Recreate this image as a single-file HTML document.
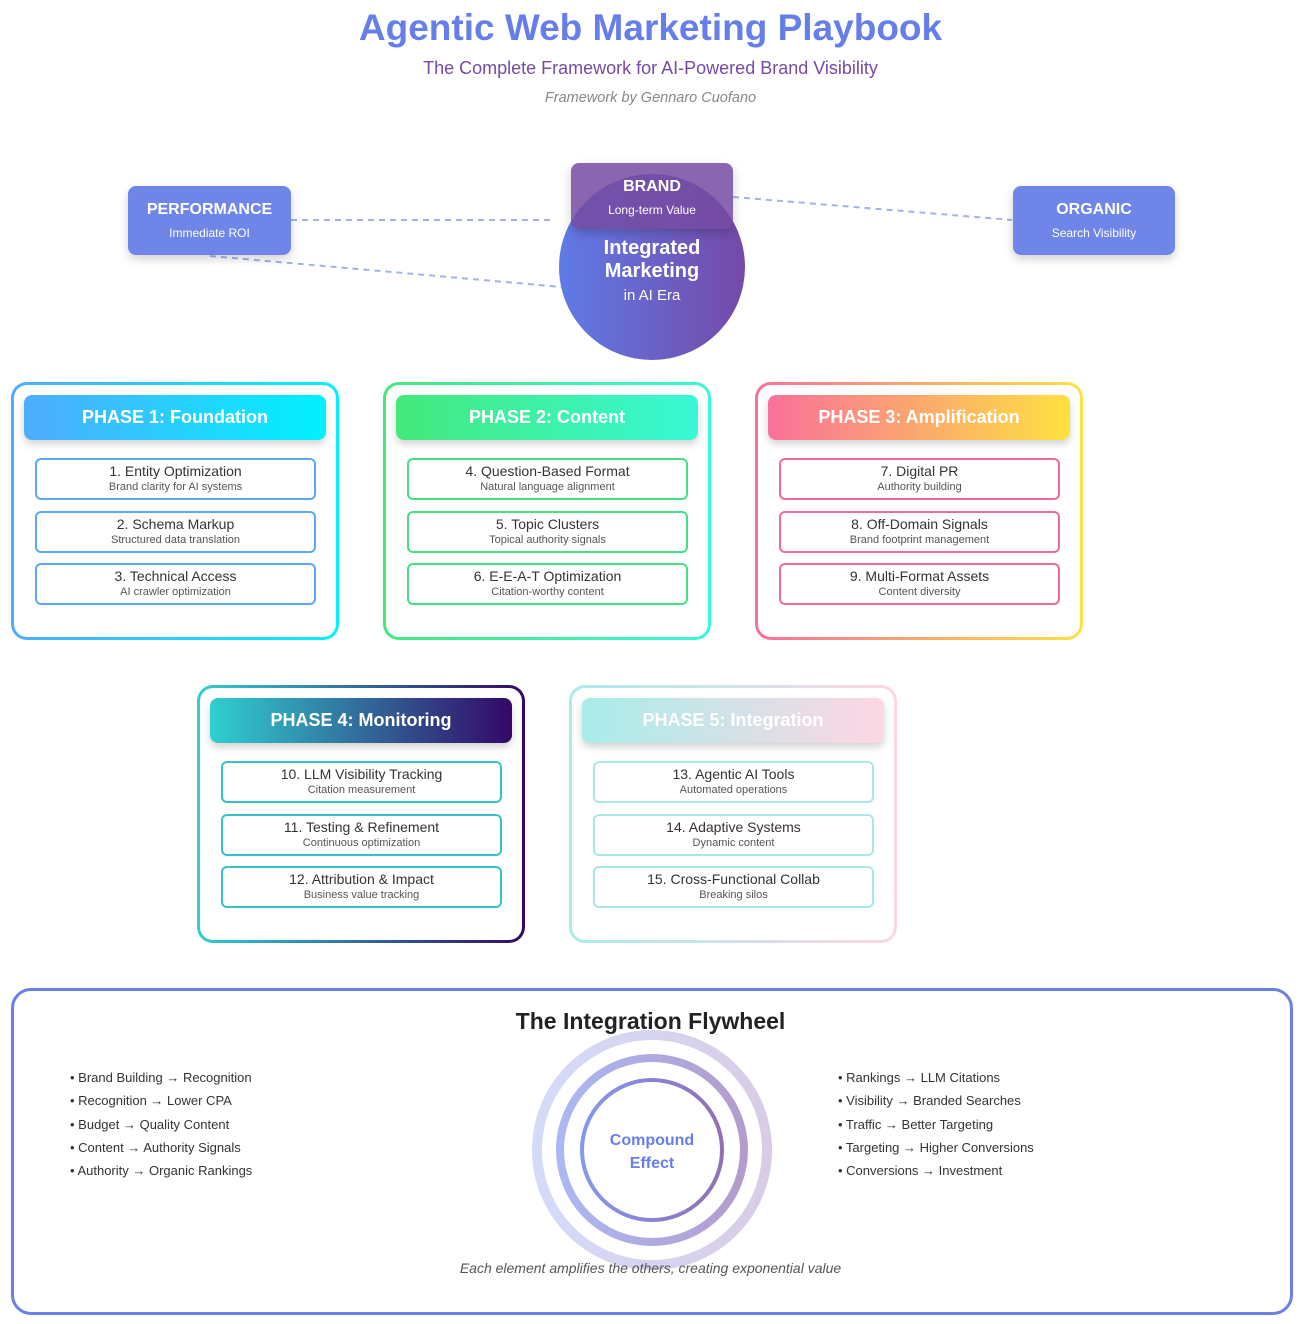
<!DOCTYPE html>
<html><head><meta charset="utf-8"><style>
*{box-sizing:border-box;margin:0;padding:0}
body{width:1301px;height:1324px;background:#fff;position:relative;font-family:"Liberation Sans",Arial,sans-serif;overflow:hidden}
.abs{position:absolute}
.t{position:absolute;left:0;width:1301px;text-align:center}
.pill{position:absolute;border-radius:8px;color:#fff;text-align:center;box-shadow:0 4px 10px rgba(0,0,0,.18)}
.phase{position:absolute;width:328px;height:258px;border:3px solid transparent;border-radius:16px}
.ph{position:absolute;left:10px;top:10px;width:302px;height:45px;border-radius:8px;color:#fff;font-weight:bold;font-size:18px;line-height:45px;text-align:center;box-shadow:0 4px 8px rgba(0,0,0,.18)}
.it{position:absolute;left:21px;width:281px;height:42px;border:2px solid;border-radius:6px;background:#fff;text-align:center}
.it b{display:block;font-weight:normal;font-size:14px;color:#333;margin-top:3px;line-height:16px}
.it i{display:block;font-style:normal;font-size:11px;color:#555;line-height:13px;margin-top:2px}
.li{position:absolute;font-size:13px;color:#333;line-height:23.3px}
</style></head><body>
<div class="t" style="top:7px;font-size:37px;font-weight:bold;color:#667eea">Agentic Web Marketing Playbook</div>
<div class="t" style="top:58px;font-size:18px;color:#764ba2">The Complete Framework for AI-Powered Brand Visibility</div>
<div class="t" style="top:90px;font-size:14.5px;color:#888;font-style:italic">Framework by Gennaro Cuofano</div>

<svg class="abs" style="left:0;top:0" width="1301" height="400">
<g stroke="#8f9de6" stroke-width="2" stroke-dasharray="6,5" fill="none" opacity=".8">
<line x1="291" y1="220" x2="555" y2="220"/>
<line x1="210" y1="256" x2="562" y2="287"/>
<line x1="733" y1="197" x2="1012" y2="220"/>
</g>
<defs><linearGradient id="cg" x1="0" x2="1"><stop offset="0" stop-color="#5f7be6"/><stop offset="1" stop-color="#7549a8"/></linearGradient></defs>
<circle cx="652" cy="267" r="93" fill="url(#cg)"/>
</svg>
<div class="pill" style="left:571px;top:163px;width:162px;height:66px;background:rgba(118,75,162,.85);box-shadow:0 4px 10px rgba(0,0,0,.2)"><div style="font-weight:bold;font-size:16px;margin-top:15px">BRAND</div><div style="font-size:12px;margin-top:7px">Long-term Value</div></div>
<div class="abs" style="left:559px;top:237px;width:186px;text-align:center;color:#fff"><div style="font-weight:bold;font-size:20px;line-height:23px">Integrated<br>Marketing</div><div style="font-size:15px;margin-top:4px">in AI Era</div></div>
<div class="pill" style="left:128px;top:186px;width:163px;height:69px;background:#6f86e8"><div style="font-weight:bold;font-size:16px;margin-top:15px">PERFORMANCE</div><div style="font-size:12px;margin-top:7px">Immediate ROI</div></div>
<div class="pill" style="left:1013px;top:186px;width:162px;height:69px;background:#6f86e8"><div style="font-weight:bold;font-size:16px;margin-top:15px">ORGANIC</div><div style="font-size:12px;margin-top:7px">Search Visibility</div></div>

<div class="phase" style="left:11px;top:382px;background:linear-gradient(#fff,#fff) padding-box,linear-gradient(90deg,#4facfe,#00f2fe) border-box">
<div class="ph" style="background:linear-gradient(90deg,#4facfe,#00f2fe)">PHASE 1: Foundation</div>
<div class="it" style="top:73px;border-color:#5aaaf2"><b>1. Entity Optimization</b><i>Brand clarity for AI systems</i></div>
<div class="it" style="top:126px;border-color:#5aaaf2"><b>2. Schema Markup</b><i>Structured data translation</i></div>
<div class="it" style="top:178px;border-color:#5aaaf2"><b>3. Technical Access</b><i>AI crawler optimization</i></div>
</div>
<div class="phase" style="left:383px;top:382px;background:linear-gradient(#fff,#fff) padding-box,linear-gradient(90deg,#43e97b,#38f9d7) border-box">
<div class="ph" style="background:linear-gradient(90deg,#43e97b,#38f9d7)">PHASE 2: Content</div>
<div class="it" style="top:73px;border-color:#45e082"><b>4. Question-Based Format</b><i>Natural language alignment</i></div>
<div class="it" style="top:126px;border-color:#45e082"><b>5. Topic Clusters</b><i>Topical authority signals</i></div>
<div class="it" style="top:178px;border-color:#45e082"><b>6. E-E-A-T Optimization</b><i>Citation-worthy content</i></div>
</div>
<div class="phase" style="left:755px;top:382px;background:linear-gradient(#fff,#fff) padding-box,linear-gradient(90deg,#fa709a,#fee140) border-box">
<div class="ph" style="background:linear-gradient(90deg,#fa709a,#fee140)">PHASE 3: Amplification</div>
<div class="it" style="top:73px;border-color:#f26a92"><b>7. Digital PR</b><i>Authority building</i></div>
<div class="it" style="top:126px;border-color:#f26a92"><b>8. Off-Domain Signals</b><i>Brand footprint management</i></div>
<div class="it" style="top:178px;border-color:#f26a92"><b>9. Multi-Format Assets</b><i>Content diversity</i></div>
</div>
<div class="phase" style="left:197px;top:685px;background:linear-gradient(#fff,#fff) padding-box,linear-gradient(90deg,#30cfd0,#330867) border-box">
<div class="ph" style="background:linear-gradient(90deg,#30cfd0,#330867)">PHASE 4: Monitoring</div>
<div class="it" style="top:73px;border-color:#34c3c6"><b>10. LLM Visibility Tracking</b><i>Citation measurement</i></div>
<div class="it" style="top:126px;border-color:#34c3c6"><b>11. Testing &amp; Refinement</b><i>Continuous optimization</i></div>
<div class="it" style="top:178px;border-color:#34c3c6"><b>12. Attribution &amp; Impact</b><i>Business value tracking</i></div>
</div>
<div class="phase" style="left:569px;top:685px;background:linear-gradient(#fff,#fff) padding-box,linear-gradient(90deg,#a8edea,#fed6e3) border-box">
<div class="ph" style="background:linear-gradient(90deg,#a8edea,#fed6e3)">PHASE 5: Integration</div>
<div class="it" style="top:73px;border-color:#a8e8e6"><b>13. Agentic AI Tools</b><i>Automated operations</i></div>
<div class="it" style="top:126px;border-color:#a8e8e6"><b>14. Adaptive Systems</b><i>Dynamic content</i></div>
<div class="it" style="top:178px;border-color:#a8e8e6"><b>15. Cross-Functional Collab</b><i>Breaking silos</i></div>
</div>

<div class="abs" style="left:11px;top:988px;width:1282px;height:327px;border:3px solid #6b80e6;border-radius:20px"></div>
<div class="t" style="top:1008px;font-size:23px;font-weight:bold;color:#222">The Integration Flywheel</div>
<svg class="abs" style="left:500px;top:1000px" width="320" height="300">
<defs><linearGradient id="rg" x1="0" x2="1"><stop offset="0" stop-color="#667eea"/><stop offset="1" stop-color="#764ba2"/></linearGradient></defs>
<circle cx="152" cy="150" r="115" fill="none" stroke="url(#rg)" stroke-width="10" opacity=".28"/>
<circle cx="152" cy="150" r="92" fill="none" stroke="url(#rg)" stroke-width="8" opacity=".55"/>
<circle cx="152" cy="150" r="70" fill="none" stroke="url(#rg)" stroke-width="4" opacity=".8"/>
</svg>
<div class="abs" style="left:582px;top:1129px;width:140px;text-align:center;font-size:16px;font-weight:bold;color:#667eea;line-height:23px">Compound<br>Effect</div>
<div class="t" style="top:1260px;font-size:14px;font-style:italic;color:#555">Each element amplifies the others, creating exponential value</div>
<div class="li" style="left:70px;top:1066px">• Brand Building → Recognition<br>• Recognition → Lower CPA<br>• Budget → Quality Content<br>• Content → Authority Signals<br>• Authority → Organic Rankings</div>
<div class="li" style="left:838px;top:1066px">• Rankings → LLM Citations<br>• Visibility → Branded Searches<br>• Traffic → Better Targeting<br>• Targeting → Higher Conversions<br>• Conversions → Investment</div>
</body></html>
